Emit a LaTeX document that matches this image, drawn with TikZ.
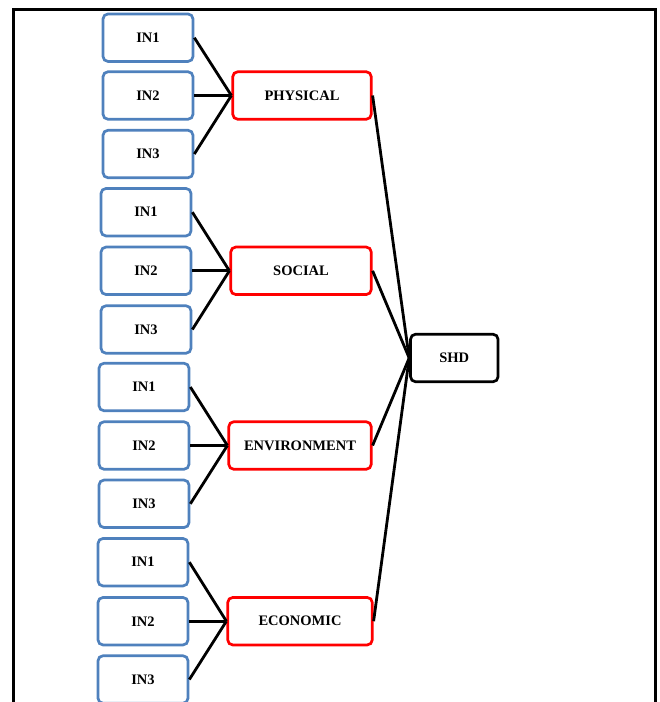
\documentclass[tikz,border=0pt]{standalone}
\usepackage{fontspec}
\setmainfont{Liberation Serif}
\definecolor{inblue}{RGB}{79,129,189}
\definecolor{catred}{RGB}{255,0,0}
\begin{document}
\begin{tikzpicture}[x=1pt,y=-1pt,
  base/.style={rounded corners=5pt, line width=2.7pt, inner sep=0pt, minimum height=47.5pt,
    font=\fontsize{14.5}{16}\selectfont\bfseries, fill=white},
  inbox/.style={base, draw=inblue, minimum width=90pt},
  catbox/.style={base, draw=catred},
  shdbox/.style={base, draw=black, minimum width=87.5pt},
  conn/.style={line width=2.8pt, black}]
\useasboundingbox (0,0) rectangle (660,702);
\clip (0,0) rectangle (660,702);
\draw[line width=3pt] (13.5,720) -- (13.5,9.5) -- (655.5,9.5) -- (655.5,720);

% group 1
\node[inbox] (a1) at (148,37.7) {IN1};
\node[inbox] (a2) at (148,95.5) {IN2};
\node[inbox] (a3) at (148,154) {IN3};
\node[catbox, minimum width=138.5pt] (phy) at (302,95.5) {PHYSICAL};
% group 2
\node[inbox] (b1) at (146,212.2) {IN1};
\node[inbox] (b2) at (146,270.8) {IN2};
\node[inbox] (b3) at (146,329.5) {IN3};
\node[catbox, minimum width=140.5pt] (soc) at (301,270.8) {SOCIAL};
% group 3
\node[inbox] (c1) at (144,387) {IN1};
\node[inbox] (c2) at (144,445.5) {IN2};
\node[inbox] (c3) at (144,503.8) {IN3};
\node[catbox, minimum width=142.5pt] (env) at (300,445.5) {ENVIRONMENT};
% group 4
\node[inbox] (d1) at (143,562.2) {IN1};
\node[inbox] (d2) at (143,621.2) {IN2};
\node[inbox] (d3) at (143,679.5) {IN3};
\node[catbox, minimum width=144.5pt] (eco) at (300,621.2) {ECONOMIC};
% SHD
\node[shdbox] (shd) at (454.3,358) {SHD};

\foreach \g/\c in {a/phy,b/soc,c/env,d/eco}{
  \foreach \i in {1,2,3}{
    \draw[conn] (\g\i.east) -- (\c.west);
  }
  \draw[conn] (\c.east) -- (shd.west);
}
\end{tikzpicture}
\end{document}
